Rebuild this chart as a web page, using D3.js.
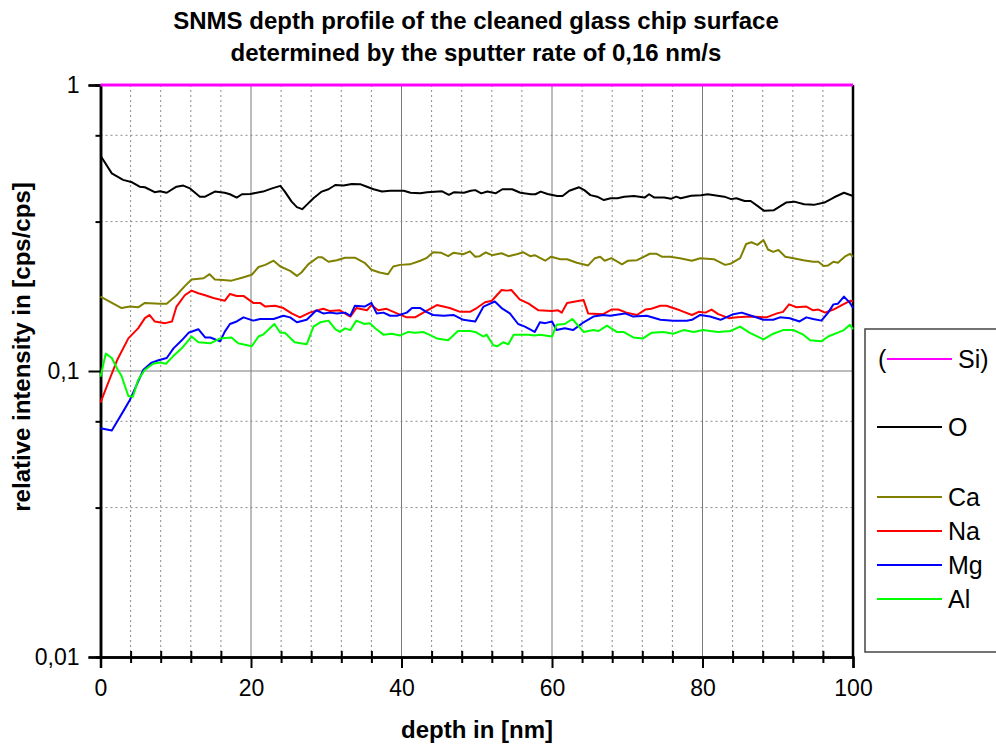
<!DOCTYPE html>
<html>
<head>
<meta charset="utf-8">
<script src="https://cdn.jsdelivr.net/npm/d3@7"></script>
<style>
  body { margin: 0; background: #fff; }
  svg { font-family: "Liberation Sans", Arial, sans-serif; }
</style>
</head>
<body>
<svg id="chart" width="996" height="747"></svg>
<script>
// values (depth in nm, relative intensity)
const siDepth = [0, 100];
const siVal = [1, 1];

const oDepth = [0.1, 1.5, 3, 4.2, 5.2, 5.9, 7.2, 7.9, 8.8, 10.1, 11, 11.9, 13.2, 13.9, 15.2, 16.5, 17.2, 18.1, 18.8, 19.9,
  21.6, 22.8, 23.9, 24.5, 25.4, 26.1, 26.8, 27.4, 28.3, 29.4, 30.3, 31.2, 32.3, 33.4, 34.5, 35.4, 36.3, 37.4, 38.5, 40.3,
  41.2, 42.5, 43.4, 45.4, 46.3, 47, 48.3, 49.2, 49.8, 50.6, 51.4, 52.5, 53.4, 54.7, 55.8, 57.2, 57.8, 58.5, 59.4, 60.7,
  61.4, 62.3, 63.6, 64.3, 65.1, 66, 66.9, 67.8, 68.7, 69.6, 70.9, 72.3, 72.9, 73.6, 74.9, 75.8, 76.5, 77.1, 78.5, 79.8,
  80.7, 82, 82.9, 83.8, 84.5, 85.6, 86.4, 87.3, 88.2, 89.5, 91.1, 92.2, 93.5, 94.8, 96.2, 97.5, 98.8, 100];
const oVal = [0.561, 0.491, 0.466, 0.457, 0.441, 0.439, 0.422, 0.425, 0.420, 0.441, 0.445, 0.435, 0.407, 0.407, 0.424, 0.420, 0.415, 0.404, 0.415, 0.416,
  0.424, 0.435, 0.444, 0.424, 0.391, 0.374, 0.368, 0.381, 0.402, 0.424, 0.432, 0.447, 0.445, 0.451, 0.450, 0.441, 0.432, 0.424, 0.427, 0.427,
  0.420, 0.418, 0.422, 0.425, 0.413, 0.422, 0.420, 0.427, 0.429, 0.418, 0.424, 0.418, 0.432, 0.432, 0.420, 0.415, 0.415, 0.424, 0.416, 0.409,
  0.409, 0.427, 0.439, 0.429, 0.412, 0.407, 0.396, 0.402, 0.402, 0.407, 0.409, 0.404, 0.415, 0.404, 0.404, 0.400, 0.407, 0.402, 0.410, 0.412,
  0.415, 0.410, 0.407, 0.399, 0.402, 0.393, 0.393, 0.378, 0.363, 0.365, 0.388, 0.391, 0.383, 0.381, 0.388, 0.405, 0.420, 0.409];

const caDepth = [0, 2.8, 3.9, 5, 5.9, 7.9, 8.8, 10.1, 11.2, 12.1, 13.7, 14.5, 15.2, 16.3, 17.4, 18.8, 20.1, 21, 21.9, 23,
  23.9, 25.2, 26.1, 26.7, 27.6, 28.9, 29.4, 30.3, 31.4, 32.5, 33.8, 35.1, 36, 37.1, 38.2, 38.9, 39.8, 41.1, 42.5, 43.3,
  44.2, 45.3, 46.2, 46.9, 48.2, 49.1, 49.8, 50.4, 51.2, 52, 53.3, 54.2, 55.3, 56.2, 57.1, 57.7, 59.1, 59.9, 61.1, 62,
  63.3, 64.8, 65.7, 66.4, 67, 67.9, 69.3, 70.1, 71.3, 73, 73.9, 74.6, 75.7, 77, 78.6, 79.7, 81.5, 83, 83.7, 85,
  85.8, 86.5, 87.3, 88.1, 88.7, 89.4, 90.1, 91, 92.1, 93.4, 94.7, 95.4, 96.1, 96.7, 97.4, 98, 98.9, 99.6, 100];
const caVal = [0.182, 0.166, 0.168, 0.167, 0.173, 0.172, 0.172, 0.184, 0.198, 0.209, 0.211, 0.218, 0.209, 0.208, 0.207, 0.212, 0.217, 0.231, 0.235, 0.243,
  0.232, 0.224, 0.215, 0.221, 0.236, 0.250, 0.250, 0.241, 0.244, 0.249, 0.249, 0.239, 0.226, 0.221, 0.218, 0.232, 0.235, 0.236, 0.243, 0.248,
  0.260, 0.259, 0.252, 0.259, 0.256, 0.262, 0.251, 0.252, 0.260, 0.254, 0.258, 0.252, 0.256, 0.260, 0.252, 0.254, 0.243, 0.251, 0.246, 0.246,
  0.239, 0.234, 0.248, 0.251, 0.243, 0.248, 0.236, 0.243, 0.244, 0.257, 0.257, 0.251, 0.251, 0.248, 0.243, 0.248, 0.246, 0.235, 0.237, 0.248,
  0.278, 0.282, 0.276, 0.287, 0.266, 0.261, 0.265, 0.251, 0.248, 0.244, 0.241, 0.241, 0.233, 0.234, 0.241, 0.239, 0.251, 0.257, 0.251];

const naDepth = [0, 1, 2.2, 3.7, 5, 5.9, 6.5, 7.2, 8.6, 9.5, 10.1, 11.2, 12.1, 13, 13.9, 15, 16.5, 17.2, 18.1, 19,
  20.3, 21.2, 21.9, 23.2, 24.3, 25.4, 26.5, 27.8, 29.6, 30.5, 31.8, 33.2, 34, 35.4, 36, 36.9, 38, 39.4, 40.7, 41.8,
  42.9, 44.7, 46.4, 47.8, 49.1, 50, 51.1, 52, 53.3, 54, 54.6, 55.7, 56.9, 58.2, 60, 60.8, 61.3, 62, 64.2, 64.8,
  66.8, 67.9, 68.8, 69.9, 71.3, 72.4, 73.2, 74.4, 75.2, 77, 78.6, 79.5, 80.4, 81.2, 82.1, 83.5, 84.6, 86.4, 88.5, 89.9,
  90.7, 91.5, 92.5, 93.8, 94.7, 95.4, 96.3, 97.4, 98.7, 99.6, 100];
const naVal = [0.0775, 0.0906, 0.109, 0.130, 0.141, 0.153, 0.157, 0.149, 0.147, 0.149, 0.168, 0.184, 0.191, 0.187, 0.184, 0.180, 0.176, 0.186, 0.183, 0.183,
  0.173, 0.173, 0.168, 0.169, 0.166, 0.159, 0.154, 0.160, 0.165, 0.162, 0.163, 0.155, 0.166, 0.163, 0.170, 0.163, 0.165, 0.159, 0.154, 0.154,
  0.160, 0.170, 0.166, 0.161, 0.161, 0.166, 0.174, 0.176, 0.192, 0.191, 0.192, 0.178, 0.172, 0.163, 0.162, 0.163, 0.160, 0.173, 0.177, 0.159,
  0.158, 0.164, 0.164, 0.160, 0.157, 0.164, 0.165, 0.169, 0.169, 0.163, 0.157, 0.161, 0.160, 0.164, 0.158, 0.153, 0.154, 0.155, 0.154, 0.159,
  0.161, 0.171, 0.167, 0.168, 0.163, 0.164, 0.160, 0.164, 0.171, 0.176, 0.175];

const mgDepth = [0, 1.5, 2.2, 3, 3.9, 4.6, 5.7, 6.8, 7.7, 8.8, 9.7, 10.8, 11.7, 13, 13.9, 14.6, 15.9, 16.5, 17.2, 18.1,
  19, 20.3, 21.2, 23, 24.3, 25.2, 26.1, 27.4, 28.7, 29.6, 30.5, 31.4, 32.5, 33.2, 33.8, 35.1, 36, 36.7, 37.6, 38.5,
  39.4, 40.7, 41.4, 42.5, 43.3, 44.2, 45.6, 46.9, 48.2, 49.1, 49.8, 50.9, 52.4, 53.3, 54.4, 55.5, 56.4, 57.7, 58.4, 59.1,
  60, 60.6, 61.7, 62.8, 64.2, 65.5, 66.8, 67.7, 69.7, 70.8, 72.6, 74.4, 76.1, 77.9, 78.6, 79.7, 81, 82.4, 84.1, 85.2,
  86.8, 88.1, 89.4, 90.3, 91.6, 92.9, 93.8, 94.7, 95.8, 96.7, 97.4, 98, 98.8, 99.6, 100];
const mgVal = [0.0631, 0.0619, 0.0665, 0.0721, 0.0792, 0.0870, 0.101, 0.107, 0.109, 0.111, 0.120, 0.128, 0.136, 0.140, 0.131, 0.131, 0.127, 0.137, 0.146, 0.149,
  0.154, 0.150, 0.152, 0.152, 0.156, 0.154, 0.148, 0.151, 0.163, 0.159, 0.160, 0.159, 0.160, 0.156, 0.169, 0.168, 0.173, 0.159, 0.160, 0.156,
  0.156, 0.160, 0.166, 0.166, 0.161, 0.157, 0.156, 0.157, 0.151, 0.150, 0.149, 0.168, 0.175, 0.166, 0.159, 0.146, 0.143, 0.137, 0.148, 0.147,
  0.149, 0.139, 0.141, 0.139, 0.148, 0.155, 0.157, 0.156, 0.159, 0.155, 0.156, 0.151, 0.150, 0.150, 0.151, 0.157, 0.155, 0.151, 0.158, 0.160,
  0.155, 0.151, 0.151, 0.154, 0.153, 0.149, 0.154, 0.152, 0.150, 0.160, 0.171, 0.172, 0.182, 0.173, 0.166];

const alDepth = [0, 0.7, 1.5, 2.2, 2.8, 3.7, 4.3, 5, 5.9, 7, 7.9, 8.7, 9.7, 10.8, 12.1, 13, 14.6, 15.9, 17.4, 18.3,
  20.1, 21, 21.6, 23.1, 23.9, 24.5, 25.8, 27.4, 28.3, 29.2, 30.3, 31.2, 31.8, 32.5, 33.2, 34, 35.1, 35.8, 36.5, 37.6,
  38.7, 39.8, 40.9, 41.8, 42.9, 44.7, 46.2, 47.5, 49.1, 49.8, 50.9, 51.3, 52.2, 52.7, 53.5, 54.2, 54.9, 56.9, 57.7, 58.4,
  60, 60.6, 61.7, 62.7, 64.2, 65.5, 66.2, 67.3, 68.6, 69.5, 70.8, 72.1, 73.2, 74.8, 76.1, 77.5, 78.8, 80.1, 81, 82.1,
  83.7, 85, 86.3, 88.1, 89.4, 90.7, 92.1, 93.4, 94.3, 95.8, 96.7, 97.9, 98.8, 99.6, 100];
const alVal = [0.0955, 0.115, 0.111, 0.102, 0.0960, 0.0818, 0.0813, 0.0930, 0.101, 0.106, 0.107, 0.106, 0.113, 0.120, 0.132, 0.126, 0.125, 0.130, 0.131, 0.125,
  0.122, 0.132, 0.134, 0.146, 0.136, 0.136, 0.126, 0.124, 0.143, 0.148, 0.150, 0.140, 0.137, 0.141, 0.139, 0.150, 0.146, 0.147, 0.141, 0.134,
  0.135, 0.133, 0.137, 0.136, 0.137, 0.130, 0.128, 0.138, 0.138, 0.137, 0.132, 0.134, 0.123, 0.122, 0.126, 0.124, 0.134, 0.134, 0.133, 0.134,
  0.132, 0.145, 0.146, 0.152, 0.137, 0.139, 0.138, 0.144, 0.137, 0.137, 0.131, 0.130, 0.136, 0.137, 0.135, 0.139, 0.137, 0.139, 0.138, 0.137,
  0.138, 0.143, 0.136, 0.129, 0.135, 0.139, 0.139, 0.134, 0.128, 0.127, 0.132, 0.136, 0.139, 0.145, 0.140];

const xTicks = [0, 20, 40, 60, 80, 100];
const yTicks = [0.01, 0.1, 1];
const yMinor = [0.0333, 0.0667, 0.333, 0.667];

const series = [
  {name: "Si", depth: siDepth, val: siVal, color: "#ff00ff"},
  {name: "O", depth: oDepth, val: oVal, color: "#000000"},
  {name: "Ca", depth: caDepth, val: caVal, color: "#808000"},
  {name: "Na", depth: naDepth, val: naVal, color: "#ff0000"},
  {name: "Mg", depth: mgDepth, val: mgVal, color: "#0000ff"},
  {name: "Al", depth: alDepth, val: alVal, color: "#00ff00"}
];

const margin = {top: 85, left: 100.5},
    width = 752.5,
    height = 572;

const svg = d3.select("#chart");
const g = svg.append("g").attr("transform", `translate(${margin.left},${margin.top})`);

const x = d3.scaleLinear().domain([0, 100]).range([0, width]);
const y = d3.scaleLog().domain([0.01, 1]).range([height, 0]);

const xMinor = d3.range(0, 101, 4).filter(d => d % 20 !== 0);

// grid
g.selectAll(".vminor").data(xMinor).enter().append("line")
    .attr("x1", d => x(d)).attr("x2", d => x(d))
    .attr("y1", 0).attr("y2", height)
    .attr("stroke", "#8a8a8a").attr("stroke-width", 1).attr("stroke-dasharray", "2,3");
g.selectAll(".vmajor").data(xTicks.slice(1, -1)).enter().append("line")
    .attr("x1", d => x(d)).attr("x2", d => x(d))
    .attr("y1", 0).attr("y2", height)
    .attr("stroke", "#7a7a7a").attr("stroke-width", 1);
g.selectAll(".hminor").data(yMinor).enter().append("line")
    .attr("x1", 0).attr("x2", width)
    .attr("y1", d => y(d)).attr("y2", d => y(d))
    .attr("stroke", "#8a8a8a").attr("stroke-width", 1).attr("stroke-dasharray", "2,3");
g.append("line")
    .attr("x1", 0).attr("x2", width)
    .attr("y1", y(0.1)).attr("y2", y(0.1))
    .attr("stroke", "#7a7a7a").attr("stroke-width", 1);

// axes
const fmt = d => String(d).replace(".", ",");

g.append("g")
    .call(d3.axisLeft(y).tickValues(yTicks).tickFormat(fmt).tickSize(12).tickPadding(9));
g.append("g")
    .call(d3.axisLeft(y).tickValues(yMinor).tickFormat("").tickSize(5));

g.append("g")
    .attr("transform", `translate(0,${height})`)
    .call(d3.axisBottom(x).tickValues(xTicks).tickSize(11).tickPadding(12));
g.append("g")
    .attr("transform", `translate(0,${height})`)
    .call(d3.axisBottom(x).tickValues(xMinor).tickFormat("").tickSizeInner(6).tickSizeOuter(0))
    .selectAll(".tick line").attr("y1", -6);

g.selectAll(".domain").attr("stroke", "#000").attr("stroke-width", 2.5);
g.selectAll(".tick line").attr("stroke", "#000").attr("stroke-width", 2);
g.selectAll(".tick text").attr("font-size", 23).attr("fill", "#000")
    .attr("font-family", "'Liberation Sans', Arial, sans-serif");

// frame
g.append("line").attr("x1", width).attr("x2", width).attr("y1", 0).attr("y2", height)
    .attr("stroke", "#000").attr("stroke-width", 2.5);
g.append("line").attr("x1", 0).attr("x2", width).attr("y1", 0).attr("y2", 0)
    .attr("stroke", "#000").attr("stroke-width", 2);

// lines, Si drawn last so it covers the top frame
const line = d3.line().x(d => x(d[0])).y(d => y(d[1]));
series.slice(1).concat(series.slice(0, 1)).forEach(s => {
  g.append("path")
      .datum(d3.zip(s.depth, s.val))
      .attr("fill", "none")
      .attr("stroke", s.color)
      .attr("stroke-width", s.name === "Si" ? 3 : 2)
      .attr("stroke-linejoin", "round")
      .attr("d", line);
});

// titles
svg.append("text").attr("x", 476).attr("y", 29).attr("text-anchor", "middle")
    .attr("font-size", 24).attr("font-weight", "bold")
    .text("SNMS depth profile of the cleaned glass chip surface");
svg.append("text").attr("x", 476).attr("y", 61).attr("text-anchor", "middle")
    .attr("font-size", 24).attr("font-weight", "bold")
    .text("determined by the sputter rate of 0,16 nm/s");
svg.append("text").attr("x", 477).attr("y", 738).attr("text-anchor", "middle")
    .attr("font-size", 24).attr("font-weight", "bold")
    .text("depth in [nm]");
svg.append("text").attr("transform", "translate(30,347) rotate(-90)").attr("text-anchor", "middle")
    .attr("font-size", 24).attr("font-weight", "bold")
    .text("relative intensity in [cps/cps]");

// legend
const legend = svg.append("g");
legend.append("rect").attr("x", 865).attr("y", 329).attr("width", 200).attr("height", 323)
    .attr("fill", "#fff").attr("stroke", "#444").attr("stroke-width", 1.5);
const legendY = {Si: 359, O: 427, Ca: 497, Na: 531, Mg: 565, Al: 599};
series.forEach(s => {
  const ly = legendY[s.name];
  const x0 = s.name === "Si" ? 887 : 877;
  legend.append("line").attr("x1", x0).attr("x2", x0 + 65).attr("y1", ly).attr("y2", ly)
      .attr("stroke", s.color).attr("stroke-width", 2);
  legend.append("text").attr("x", x0 + 71).attr("y", ly + 9).attr("font-size", 25)
      .text(s.name === "Si" ? "Si)" : s.name);
});
legend.append("text").attr("x", 878).attr("y", legendY.Si + 9).attr("font-size", 25).text("(");
</script>
</body>
</html>
